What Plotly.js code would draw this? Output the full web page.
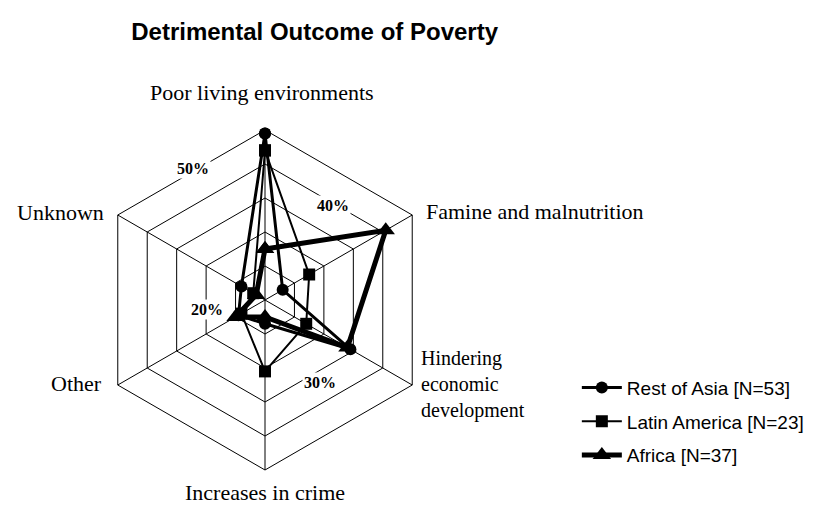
<!DOCTYPE html>
<html>
<head>
<meta charset="utf-8">
<script src="https://cdn.plot.ly/plotly-3.0.1.min.js"></script>
<style>
  body { margin: 0; background: #fff; }
  #chart { width: 836px; height: 505px; }
</style>
</head>
<body>
<div id="chart"></div>
<script>
// axes go clockwise from the top
var categories = ['Poor living environments', 'Famine and malnutrition', 'Hindering economic development',
                  'Increases in crime', 'Other', 'Unknown'];
var restOfAsia   = [49, 6, 29, 7, 9, 8];
var latinAmerica = [44, 15, 14, 21, 8, 4];
var africa       = [15, 41, 28, 5, 10, 3];

var seriesNames = ['Rest of Asia [N=53]', 'Latin America [N=23]', 'Africa [N=37]'];
var ringLabels = ['50%', '40%', '20%', '30%'];

// close the loop
function closed(arr) { return arr.concat([arr[0]]); }

var data = [
  {type: 'scatterpolar', name: seriesNames[0], legendgroup: 'a', r: closed(restOfAsia), theta: closed(categories),
   mode: 'lines+markers', line: {color: '#000', width: 3},
   marker: {symbol: 'circle', size: 12, color: '#000'}},
  {type: 'scatterpolar', name: seriesNames[1], legendgroup: 'b', r: closed(latinAmerica), theta: closed(categories),
   mode: 'lines+markers', line: {color: '#000', width: 2},
   marker: {symbol: 'square', size: 12, color: '#000'}},
  {type: 'scatterpolar', name: seriesNames[2], legendgroup: 'c', r: closed(africa), theta: closed(categories),
   mode: 'lines+markers', line: {color: '#000', width: 5},
   marker: {symbol: 'triangle-up', size: 16, color: '#000'}}
];

var serif = 'Liberation Serif, Times New Roman, serif';

var layout = {
  width: 836, height: 505,
  margin: {l: 0, r: 0, t: 0, b: 0},
  paper_bgcolor: '#fff',
  showlegend: true,
  title: {text: '<b>Detrimental Outcome of Poverty</b>', x: 0.157, xanchor: 'left', y: 0.955,
          font: {family: 'Liberation Sans, Arial, sans-serif', size: 24, color: '#000'}},
  legend: {x: 0.69, y: 0.27, xanchor: 'left', yanchor: 'top',
           font: {family: 'Liberation Sans, Arial, sans-serif', size: 19, color: '#000'},
           tracegroupgap: 6, itemwidth: 40},
  polar: {
    domain: {x: [95 / 836, 435 / 836], y: [35 / 505, 375 / 505]},
    gridshape: 'linear',
    bgcolor: '#fff',
    radialaxis: {range: [0, 50], dtick: 10, showticklabels: false, ticks: '',
                 gridcolor: '#000', gridwidth: 1, showline: false, angle: 90},
    angularaxis: {rotation: 90, direction: 'clockwise', showticklabels: false, ticks: '',
                  gridcolor: '#000', gridwidth: 1, linecolor: '#000', linewidth: 1}
  },
  annotations: [
    {text: categories[0], x: 262, y: 93, xanchor: 'center'},
    {text: categories[1], x: 424, y: 212, xanchor: 'left'},
    {text: categories[2].split(' ').join('<br>'), x: 419, y: 384, xanchor: 'left', align: 'left', size: 20},
    {text: categories[3], x: 265, y: 492, xanchor: 'center'},
    {text: categories[4], x: 104, y: 383, xanchor: 'right'},
    {text: categories[5], x: 106, y: 213, xanchor: 'right'}
  ].map(function (a) {
    var sz = a.size || 22;
    delete a.size;
    return Object.assign(a, {xref: 'paper', yref: 'paper', x: a.x / 836, y: 1 - a.y / 505,
      yanchor: 'middle', showarrow: false,
      font: {family: serif, size: sz, color: '#000'}});
  }).concat([
    {text: ringLabels[0], x: 193, y: 168},
    {text: ringLabels[1], x: 333, y: 206},
    {text: ringLabels[2], x: 207, y: 309},
    {text: ringLabels[3], x: 320, y: 382}
  ].map(function (a) {
    return Object.assign(a, {xref: 'paper', yref: 'paper', x: a.x / 836, y: 1 - a.y / 505,
      xanchor: 'center', yanchor: 'middle', showarrow: false, bgcolor: '#fff',
      text: '<b>' + a.text + '</b>', font: {family: serif, size: 16, color: '#000'}});
  }))
};

Plotly.newPlot('chart', data, layout, {displayModeBar: false});
</script>
</body>
</html>
